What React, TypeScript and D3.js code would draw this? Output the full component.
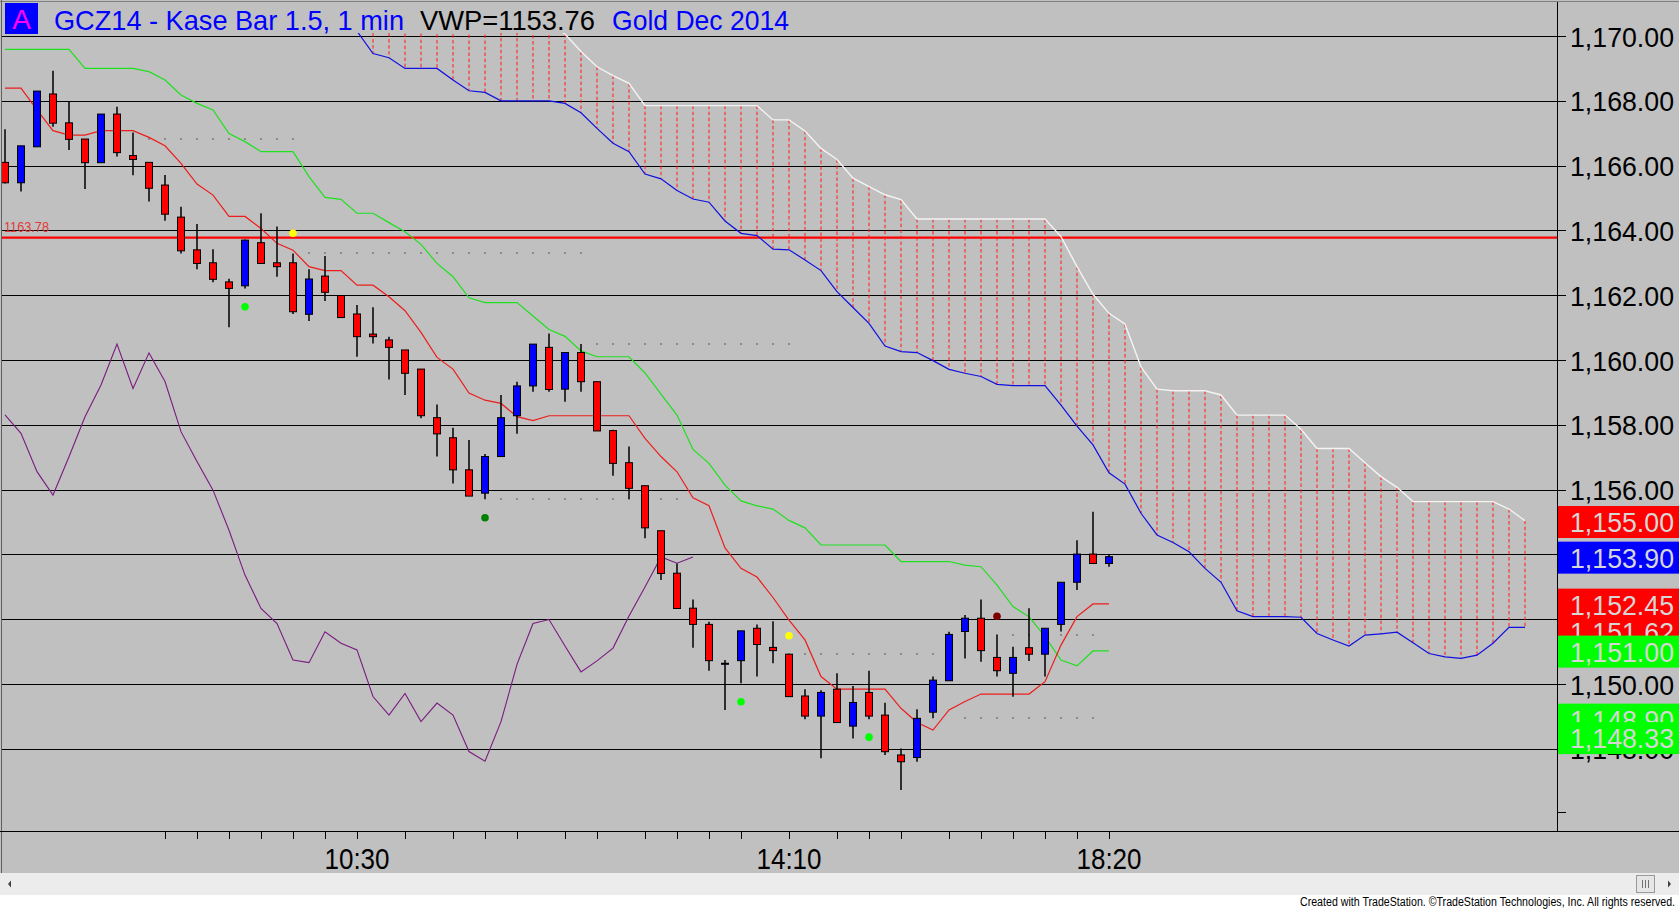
import React, { useEffect, useRef } from 'react';
import * as d3 from 'd3';

// Kase bars, one per slot (0..69)
const opens = [
  1166.10, 1165.47, 1166.58, 1168.21, 1167.32, 1166.82, 1166.09, 1167.59, 1166.31, 1166.10,
  1165.40, 1164.41, 1163.40, 1163.00, 1162.41, 1162.29, 1163.62, 1163.00, 1163.00, 1161.41,
  1162.59, 1161.99, 1161.42, 1160.80, 1160.62, 1160.31, 1159.72, 1158.22, 1157.60, 1156.61,
  1155.89, 1157.02, 1158.28, 1159.20, 1160.39, 1159.10, 1160.23, 1159.33, 1157.82, 1156.83,
  1156.12, 1154.73, 1153.42, 1152.34, 1151.84, 1150.64, 1150.72, 1151.72, 1151.13, 1150.92,
  1149.63, 1149.01, 1149.84, 1148.70, 1149.74, 1149.04, 1147.81, 1147.73, 1149.13, 1150.10,
  1151.62, 1152.03, 1150.82, 1150.33, 1151.12, 1150.92, 1151.84, 1153.14, 1154.01, 1153.72,
];
const highs = [
  1167.12, 1166.61, 1168.30, 1168.93, 1167.99, 1166.82, 1167.59, 1167.82, 1167.02, 1166.10,
  1165.71, 1164.73, 1164.20, 1163.42, 1162.51, 1163.72, 1164.53, 1164.12, 1163.29, 1162.80,
  1163.21, 1161.99, 1161.70, 1161.63, 1160.72, 1160.31, 1159.72, 1158.63, 1157.91, 1157.53,
  1157.10, 1158.92, 1159.33, 1160.49, 1160.82, 1160.23, 1160.49, 1159.33, 1157.85, 1157.33,
  1156.12, 1154.73, 1153.72, 1152.61, 1151.92, 1150.74, 1151.64, 1151.84, 1151.94, 1150.92,
  1149.84, 1149.81, 1150.33, 1149.94, 1150.41, 1149.42, 1148.01, 1149.22, 1150.23, 1151.61,
  1152.13, 1152.61, 1151.53, 1151.15, 1152.34, 1151.72, 1153.14, 1154.44, 1155.32, 1154.01,
];
const lows = [
  1165.45, 1165.20, 1166.58, 1167.20, 1166.48, 1165.28, 1166.09, 1166.28, 1165.70, 1164.89,
  1164.30, 1163.29, 1162.80, 1162.40, 1161.01, 1162.21, 1162.98, 1162.57, 1161.42, 1161.20,
  1161.82, 1161.31, 1160.10, 1160.51, 1159.40, 1158.92, 1158.20, 1157.02, 1156.19, 1155.80,
  1155.70, 1157.02, 1157.72, 1159.02, 1159.02, 1158.71, 1159.02, 1157.81, 1156.43, 1155.71,
  1154.50, 1153.21, 1152.33, 1151.12, 1150.41, 1149.20, 1150.02, 1150.23, 1150.64, 1149.61,
  1148.91, 1147.71, 1148.81, 1148.32, 1148.91, 1147.81, 1146.73, 1147.60, 1148.94, 1150.10,
  1150.79, 1150.69, 1150.23, 1149.61, 1150.71, 1150.23, 1151.62, 1152.90, 1153.72, 1153.62,
];
const closes = [
  1165.47, 1166.61, 1168.30, 1167.31, 1166.81, 1166.09, 1167.59, 1166.40, 1166.19, 1165.30,
  1164.50, 1163.37, 1162.98, 1162.49, 1162.21, 1163.70, 1162.98, 1162.88, 1161.49, 1162.50,
  1162.09, 1161.31, 1160.72, 1160.72, 1160.39, 1159.59, 1158.28, 1157.72, 1156.61, 1155.80,
  1157.02, 1158.22, 1159.20, 1160.49, 1159.09, 1160.23, 1159.33, 1157.81, 1156.81, 1156.04,
  1154.82, 1153.41, 1152.33, 1151.84, 1150.72, 1150.64, 1151.64, 1151.22, 1151.03, 1149.61,
  1149.01, 1149.74, 1148.81, 1149.43, 1149.01, 1147.91, 1147.60, 1148.94, 1150.12, 1151.53,
  1152.03, 1151.03, 1150.41, 1150.82, 1150.92, 1151.72, 1153.14, 1154.01, 1153.72, 1153.93,
];

// fast (red) and slow (green) averages
const redLine = [
  1168.39, 1168.39, 1167.72, 1167.08, 1166.94, 1166.94, 1167.08, 1167.08, 1167.08, 1166.87,
  1166.61, 1166.07, 1165.43, 1165.09, 1164.43, 1164.43, 1164.06, 1163.60, 1163.39, 1162.88,
  1162.76, 1162.76, 1162.31, 1162.31, 1161.95, 1161.52, 1160.85, 1160.08, 1159.72, 1158.98,
  1158.76, 1158.66, 1158.25, 1158.13, 1158.28, 1158.28, 1158.28, 1158.28, 1158.28, 1158.28,
  1157.58, 1157.02, 1156.55, 1155.75, 1155.50, 1154.20, 1153.57, 1153.30, 1152.67, 1151.97,
  1151.36, 1150.23, 1149.84, 1149.84, 1149.84, 1149.84, 1149.25, 1148.81, 1148.58, 1149.20,
  1149.46, 1149.69, 1149.69, 1149.69, 1149.69, 1150.07, 1151.20, 1152.08, 1152.47, 1152.47,
];
const greenLine = [
  1169.59, 1169.59, 1169.59, 1169.59, 1169.59, 1169.00, 1169.00, 1169.00, 1169.00, 1168.90,
  1168.64, 1168.18, 1167.92, 1167.72, 1166.99, 1166.74, 1166.43, 1166.43, 1166.43, 1165.66,
  1165.02, 1164.96, 1164.53, 1164.53, 1164.24, 1163.96, 1163.57, 1162.98, 1162.57, 1161.92,
  1161.77, 1161.77, 1161.77, 1161.36, 1160.94, 1160.73, 1160.28, 1160.10, 1160.10, 1160.10,
  1159.60, 1158.95, 1158.30, 1157.24, 1156.81, 1156.14, 1155.65, 1155.50, 1155.40, 1155.05,
  1154.82, 1154.29, 1154.29, 1154.29, 1154.29, 1154.29, 1153.78, 1153.78, 1153.78, 1153.78,
  1153.67, 1153.62, 1153.05, 1152.39, 1152.08, 1151.46, 1150.74, 1150.56, 1151.02, 1151.02,
];

// purple oscillator, bars 0..43 (0..100 scale)
const oscValues = [
  80.7, 76.5, 67.8, 62.5, 71.2, 80.3, 87.5, 96.8, 86.7, 94.8,
  88.3, 76.9, 70.1, 63.6, 54.5, 44.3, 36.7, 33.3, 25.0, 24.4,
  31.4, 28.8, 27.3, 16.7, 12.5, 17.4, 11.0, 15.2, 12.5, 4.2,
  2.0, 11.0, 24.0, 33.3, 34.2, 28.2, 22.3, 24.8, 27.7, 35.0,
  41.6, 48.4, 47.0, 48.4,
];

// cloud spans, from bar 22 to bar 95
const cloudStart = 22;
const spanA = [
  1170.15, 1169.46, 1169.33, 1169.00, 1169.00, 1169.00, 1168.64, 1168.31, 1168.26, 1168.00,
  1168.00, 1168.00, 1168.00, 1167.92, 1167.63, 1167.15, 1166.69, 1166.43, 1165.74, 1165.59,
  1165.23, 1164.97, 1164.87, 1164.29, 1163.91, 1163.84, 1163.42, 1163.40, 1163.09, 1162.76,
  1162.11, 1161.62, 1161.13, 1160.43, 1160.26, 1160.23, 1159.98, 1159.71, 1159.59, 1159.49,
  1159.25, 1159.21, 1159.21, 1159.21, 1158.61, 1157.96, 1157.38, 1156.52, 1156.17, 1155.27,
  1154.60, 1154.37, 1154.08, 1153.57, 1153.14, 1152.26, 1152.08, 1152.08, 1152.08, 1152.06,
  1151.56, 1151.36, 1151.17, 1151.51, 1151.55, 1151.60, 1151.27, 1150.94, 1150.84, 1150.79,
  1150.89, 1151.26, 1151.75, 1151.75,
];
const spanB = [
  1171.20, 1171.20, 1171.20, 1171.00, 1171.00, 1170.80, 1170.80, 1170.60, 1170.60, 1170.50,
  1170.50, 1170.40, 1170.40, 1170.06, 1169.52, 1169.05, 1168.78, 1168.54, 1167.85, 1167.85,
  1167.85, 1167.85, 1167.85, 1167.85, 1167.85, 1167.85, 1167.41, 1167.41, 1167.07, 1166.53,
  1166.19, 1165.61, 1165.35, 1165.10, 1164.95, 1164.35, 1164.35, 1164.35, 1164.35, 1164.35,
  1164.35, 1164.35, 1164.35, 1164.35, 1163.81, 1162.88, 1162.03, 1161.44, 1161.11, 1159.79,
  1159.10, 1159.05, 1159.05, 1159.05, 1158.92, 1158.30, 1158.30, 1158.30, 1158.30, 1157.86,
  1157.27, 1157.27, 1157.27, 1156.83, 1156.40, 1156.07, 1155.63, 1155.63, 1155.63, 1155.63,
  1155.63, 1155.63, 1155.40, 1155.04,
];

// signal dots
const markerBars = [15, 18, 30, 46, 49, 54, 62];
const markerPrices = [1161.64, 1163.91, 1155.13, 1149.45, 1151.49, 1148.36, 1152.09];
const markerColors = ['#00ff00', '#ffff00', '#008000', '#00ff00', '#ffff00', '#00ff00', '#800000'];

// dotted level segments
const dotLevels = [1166.81, 1163.31, 1160.50, 1155.71, 1150.93, 1151.51, 1148.94];
const dotFrom = [9, 19, 37, 31, 49, 63, 60];
const dotTo = [18, 36, 49, 42, 58, 68, 68];

const alertPrice = 1163.78;
const priceTicks = [1148, 1150, 1152, 1154, 1156, 1158, 1160, 1162, 1164, 1166, 1168, 1170];
const timeTickBars = [10, 12, 14, 16, 18, 20, 22, 25, 28, 30, 32, 35, 37, 40, 42, 44, 46, 49, 52, 54, 56, 59, 61, 63, 65, 67, 69];
const timeLabelBars = [22, 49, 69];
const timeLabels = ['10:30', '14:10', '18:20'];

// price tags on the right scale, drawn in this order
const tagPrices = [1155.00, 1153.90, 1151.62, 1152.45, 1151.00, 1148.90, 1148.33];
const tagColors = ['#ff0000', '#0000ff', '#ff0000', '#ff0000', '#00ff00', '#00ff00', '#00ff00'];

const FONT = '"Liberation Sans", Arial, sans-serif';

const App: React.FC = () => {
  const ref = useRef<SVGSVGElement>(null);

  useEffect(() => {
    if (!ref.current) return;
    const svg = d3.select(ref.current);
    svg.selectAll('*').remove();

    const width = 1679;
    const height = 909;
    const axisX = 1557;
    const plotTop = 33;
    const plotBottom = 831;

    const x = d3.scaleLinear().domain([0, 95]).range([5, 5 + 16 * 95]);
    const y = d3.scaleLinear().domain([1146, 1170]).range([36 + 24 * 32.4, 36]);
    const osc = d3.scaleLinear().domain([0, 100]).range([770, 330]);
    const fmt = d3.format(',.2f');

    svg.attr('width', width).attr('height', height).attr('viewBox', `0 0 ${width} ${height}`);

    svg.append('rect').attr('width', width).attr('height', height).attr('fill', '#c0c0c0');

    svg.append('clipPath').attr('id', 'plot-clip')
      .append('rect').attr('x', 2).attr('y', plotTop).attr('width', axisX - 2).attr('height', plotBottom - plotTop);

    // grid
    const grid = svg.append('g').attr('shape-rendering', 'crispEdges');
    grid.selectAll('line').data(priceTicks).enter().append('line')
      .attr('x1', 2).attr('x2', axisX + 9)
      .attr('y1', d => Math.round(y(d)) + 0.5).attr('y2', d => Math.round(y(d)) + 0.5)
      .attr('stroke', '#000').attr('stroke-width', 1);

    const plot = svg.append('g').attr('clip-path', 'url(#plot-clip)');

    // alert line
    plot.append('line')
      .attr('x1', 2).attr('x2', axisX)
      .attr('y1', y(alertPrice)).attr('y2', y(alertPrice))
      .attr('stroke', '#ff0000').attr('stroke-width', 2.2);
    plot.append('text')
      .attr('x', 4).attr('y', y(alertPrice) - 5.5)
      .attr('font-family', FONT).attr('font-size', 14)
      .attr('textLength', 45).attr('lengthAdjust', 'spacingAndGlyphs')
      .attr('fill', '#e03a3a').text(alertPrice.toFixed(2));

    // dotted levels
    dotLevels.forEach((lv, k) => {
      const bars = d3.range(dotFrom[k], dotTo[k] + 1);
      plot.append('g').selectAll('rect').data(bars).enter().append('rect')
        .attr('x', d => x(d) - 1).attr('y', Math.round(y(lv)) - 1)
        .attr('width', 2).attr('height', 2).attr('fill', '#8c8c8c');
    });

    // cloud
    const cloudBars = spanA.map((_, i) => i + cloudStart);
    plot.append('g').selectAll('line').data(cloudBars.filter(b => b > cloudStart)).enter().append('line')
      .attr('x1', d => x(d)).attr('x2', d => x(d))
      .attr('y1', d => y(spanB[d - cloudStart])).attr('y2', d => y(spanA[d - cloudStart]))
      .attr('stroke', '#ff1a1a').attr('stroke-width', 1).attr('stroke-dasharray', '3.5 2.5');

    const lineFrom = (start: number) => d3.line<number>().x((_, i) => x(i + start)).y(d => y(d));
    plot.append('path').attr('d', lineFrom(cloudStart)(spanB))
      .attr('fill', 'none').attr('stroke', '#f4f4f4').attr('stroke-width', 1.4);
    plot.append('path').attr('d', lineFrom(cloudStart)(spanA))
      .attr('fill', 'none').attr('stroke', '#1010e0').attr('stroke-width', 1.2);

    // oscillator
    plot.append('path')
      .attr('d', d3.line<number>().x((_, i) => x(i)).y(d => osc(d))(oscValues))
      .attr('fill', 'none').attr('stroke', '#7a1a80').attr('stroke-width', 1.1);

    // averages
    plot.append('path').attr('d', lineFrom(0)(greenLine))
      .attr('fill', 'none').attr('stroke', '#1ee01e').attr('stroke-width', 1.2);
    plot.append('path').attr('d', lineFrom(0)(redLine))
      .attr('fill', 'none').attr('stroke', '#ee1c1c').attr('stroke-width', 1.2);

    // candles
    const idx = d3.range(opens.length);
    const candles = plot.append('g');
    candles.selectAll('line').data(idx).enter().append('line')
      .attr('x1', i => x(i)).attr('x2', i => x(i))
      .attr('y1', i => y(highs[i])).attr('y2', i => y(lows[i]))
      .attr('stroke', '#000').attr('stroke-width', 1.5);
    candles.selectAll('rect').data(idx).enter().append('rect')
      .attr('x', i => x(i) - 3.5)
      .attr('y', i => y(Math.max(opens[i], closes[i])))
      .attr('width', 7)
      .attr('height', i => Math.max(1, Math.abs(y(opens[i]) - y(closes[i]))))
      .attr('fill', i => (closes[i] >= opens[i] ? '#0000ff' : '#ff0000'))
      .attr('stroke', '#000').attr('stroke-width', 1);

    // signal dots
    plot.append('g').selectAll('circle').data(markerBars).enter().append('circle')
      .attr('cx', d => x(d)).attr('cy', (_, k) => y(markerPrices[k]))
      .attr('r', 3.8).attr('fill', (_, k) => markerColors[k]);

    // frame
    svg.append('line').attr('x1', 0).attr('x2', width).attr('y1', 1.5).attr('y2', 1.5)
      .attr('stroke', '#808080');
    svg.append('line').attr('x1', 1.5).attr('x2', 1.5).attr('y1', 0).attr('y2', 873)
      .attr('stroke', '#606060');
    svg.append('line').attr('x1', axisX + 0.5).attr('x2', axisX + 0.5).attr('y1', 2).attr('y2', plotBottom)
      .attr('stroke', '#000');
    svg.append('line').attr('x1', 0).attr('x2', width).attr('y1', plotBottom + 0.5).attr('y2', plotBottom + 0.5)
      .attr('stroke', '#000');

    // price scale labels
    svg.append('g').selectAll('text').data(priceTicks).enter().append('text')
      .attr('x', 1570).attr('y', d => y(d) + 10.5)
      .attr('font-family', FONT).attr('font-size', 28)
      .attr('textLength', 104).attr('lengthAdjust', 'spacingAndGlyphs')
      .attr('fill', '#000').text(d => fmt(d));
    svg.append('line').attr('x1', axisX).attr('x2', axisX + 9)
      .attr('y1', 812.5).attr('y2', 812.5).attr('stroke', '#000');

    // price tags
    const tags = svg.append('g');
    tagPrices.forEach((p, k) => {
      tags.append('rect').attr('x', axisX + 1).attr('y', y(p) - 16)
        .attr('width', width - axisX - 1).attr('height', 32).attr('fill', tagColors[k]);
      tags.append('text').attr('x', 1570).attr('y', y(p) + 10)
        .attr('font-family', FONT).attr('font-size', 28)
        .attr('textLength', 104).attr('lengthAdjust', 'spacingAndGlyphs')
        .attr('fill', '#d6d6d6').text(fmt(p));
    });

    // time axis
    svg.append('g').selectAll('line').data(timeTickBars).enter().append('line')
      .attr('x1', d => Math.round(x(d)) + 0.5).attr('x2', d => Math.round(x(d)) + 0.5)
      .attr('y1', plotBottom).attr('y2', plotBottom + 8).attr('stroke', '#000');
    svg.append('g').selectAll('text').data(timeLabelBars).enter().append('text')
      .attr('x', d => x(d)).attr('y', 869)
      .attr('text-anchor', 'middle').attr('font-family', FONT).attr('font-size', 30)
      .attr('textLength', 65).attr('lengthAdjust', 'spacingAndGlyphs')
      .attr('fill', '#000').text((_, k) => timeLabels[k]);

    // title strip
    svg.append('rect').attr('x', 5).attr('y', 3).attr('width', 33).attr('height', 31).attr('fill', '#0000ff');
    svg.append('text').attr('x', 21.5).attr('y', 29).attr('text-anchor', 'middle')
      .attr('font-family', FONT).attr('font-size', 28).attr('fill', '#ff00ff').text('A');
    const title = [
      { t: 'GCZ14 - Kase Bar 1.5, 1 min', x0: 54, w: 350, c: '#0000ff' },
      { t: 'VWP=1153.76', x0: 420, w: 175, c: '#000000' },
      { t: 'Gold Dec 2014', x0: 612, w: 177, c: '#0000ff' },
    ];
    svg.append('g').selectAll('text').data(title).enter().append('text')
      .attr('x', d => d.x0).attr('y', 29.5)
      .attr('font-family', FONT).attr('font-size', 28)
      .attr('textLength', d => d.w).attr('lengthAdjust', 'spacingAndGlyphs')
      .attr('fill', d => d.c).text(d => d.t);

    // scrollbar and footer
    svg.append('rect').attr('x', 0).attr('y', 873).attr('width', width).attr('height', 22).attr('fill', '#ececec');
    svg.append('rect').attr('x', 0).attr('y', 895).attr('width', width).attr('height', 14).attr('fill', '#ffffff');
    svg.append('path').attr('d', 'M8,884 L11,880.5 L11,887.5 Z').attr('fill', '#404040');
    svg.append('path').attr('d', 'M1671,884 L1668,880.5 L1668,887.5 Z').attr('fill', '#404040');
    svg.append('rect').attr('x', 1636.5).attr('y', 875.5).attr('width', 18).attr('height', 17)
      .attr('fill', '#e6e6e6').attr('stroke', '#9a9a9a');
    [1642.5, 1645.5, 1648.5].forEach(lx => {
      svg.append('line').attr('x1', lx).attr('x2', lx).attr('y1', 880).attr('y2', 888).attr('stroke', '#707070');
    });
    svg.append('text').attr('x', 1675).attr('y', 905.5).attr('text-anchor', 'end')
      .attr('font-family', FONT).attr('font-size', 12)
      .attr('textLength', 375).attr('lengthAdjust', 'spacingAndGlyphs')
      .attr('fill', '#000')
      .text('Created with TradeStation. \u00A9TradeStation Technologies, Inc. All rights reserved.');
  }, []);

  return (
    <div style={{ position: 'absolute', left: 0, top: 0, width: 1679, height: 909, overflow: 'hidden' }}>
      <svg ref={ref} style={{ display: 'block' }} />
    </div>
  );
};

export default App;
